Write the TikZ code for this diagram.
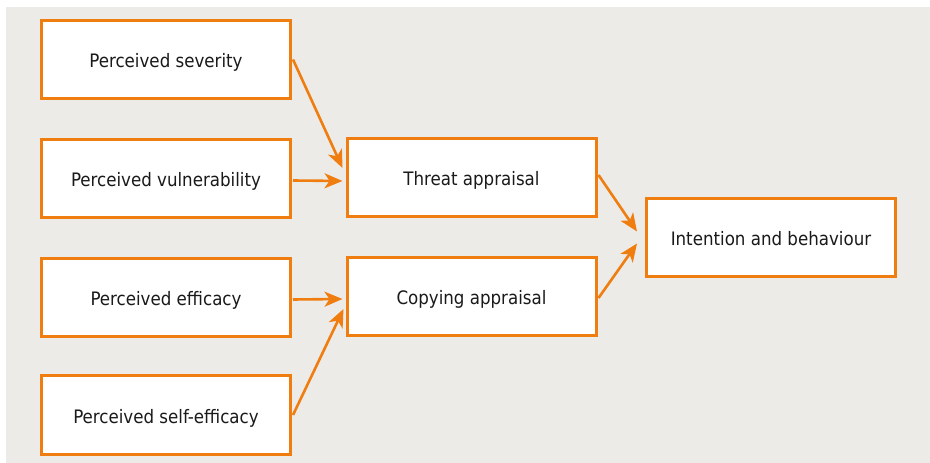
\documentclass[tikz,border=0pt]{standalone}
\usepackage{fontspec}
\setmainfont{DejaVu Sans Condensed}
\usetikzlibrary{arrows.meta,calc}
\definecolor{bgc}{HTML}{EDEBE8}
\definecolor{orng}{HTML}{EF7D0F}
\definecolor{txt}{HTML}{1A1A1A}
\begin{document}
\begin{tikzpicture}[x=1bp,y=-1bp,
  box/.style={draw=orng,line width=3bp,fill=white,minimum width=249bp,minimum height=78bp,inner sep=0pt,text height=16bp,text depth=0bp,font=\fontsize{18.6}{22}\selectfont,text=txt},
  arr/.style={draw=orng,line width=2.6bp,-{Stealth[length=18bp,width=15bp,inset=5bp]}}]
\useasboundingbox (0,0) rectangle (930,463);
\fill[bgc] (6,7) rectangle (930,463);
\node[box] (sev) at (166,59.5) {Perceived severity};
\node[box] (vul) at (166,178.5) {Perceived vulnerability};
\node[box] (eff) at (166,297.5) {Perceived efficacy};
\node[box] (self) at (166,415) {Perceived self-efficacy};
\node[box] (thr) at (471.5,178) {Threat appraisal};
\node[box] (cop) at (471.5,297) {Copying appraisal};
\node[box] (int) at (771,237.5) {Intention and behaviour};
\draw[arr] ($(sev.east)+(1,0)$) -- ($(thr.west)+(-3,-10)$);
\draw[arr] ($(vul.east)+(1,2)$) -- ($(thr.west)+(-3,3)$);
\draw[arr] ($(eff.east)+(1,2)$) -- ($(cop.west)+(-3,2)$);
\draw[arr] ($(self.east)+(1,0)$) -- ($(cop.west)+(-2,12)$);
\draw[arr] ($(thr.east)+(1,-3)$) -- ($(int.west)+(-8,-6)$);
\draw[arr] ($(cop.east)+(1,1)$) -- ($(int.west)+(-8,6)$);
\end{tikzpicture}
\end{document}
